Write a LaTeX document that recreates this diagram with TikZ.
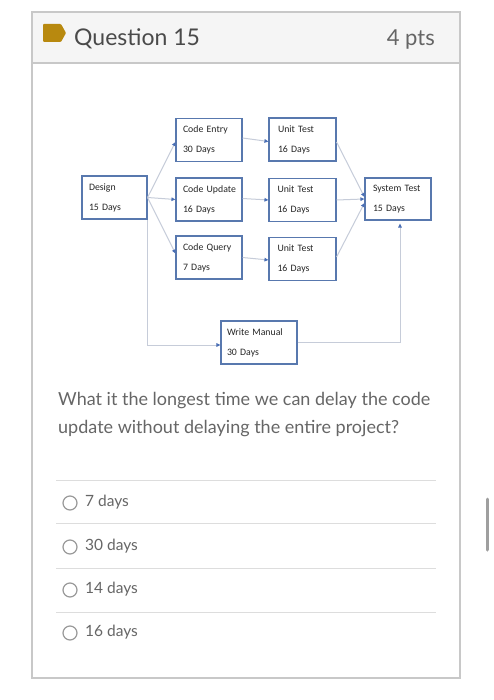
\documentclass[tikz,border=0pt]{standalone}
\usepackage{fontspec}
\setmainfont{Lato}
\newfontfamily\diagfont{Carlito}
\newcommand\diagsetup{\diagfont\fontsize{9.8}{20}\selectfont\hyphenpenalty10000\relax\exhyphenpenalty10000\relax\hfuzz20pt\relax}
\usetikzlibrary{arrows.meta,calc}
\definecolor{cardline}{HTML}{C8C8C8}
\definecolor{headfill}{HTML}{F5F5F5}
\definecolor{flagcol}{HTML}{B8890F}
\definecolor{headtext}{HTML}{4A4A4A}
\definecolor{bodytext}{HTML}{666666}
\definecolor{sepline}{HTML}{DDDDDD}
\definecolor{boxline}{HTML}{5878AE}
\definecolor{conn}{HTML}{C6CCD9}
\definecolor{tipblue}{HTML}{4A6FB5}
\definecolor{diagtext}{HTML}{262626}
\tikzset{
  taskbox/.style={draw=boxline, line width=1.1pt, fill=white, rectangle,
    minimum width=66pt, minimum height=43pt, text width=52pt, align=left,
    inner sep=0pt, text=diagtext, font=\diagsetup},
  link/.style={draw=conn, line width=1pt,
    -{Triangle[length=4pt,width=3.5pt,color=tipblue]}},
  optext/.style={anchor=base west, inner sep=0pt, text=bodytext,
    font=\fontsize{15.5}{18}\selectfont},
  radio/.style={draw=gray!80, line width=1.2pt},
  qtext/.style={anchor=base west, inner sep=0pt, text=bodytext,
    font=\fontsize{18}{20}\selectfont}
}
\begin{document}
\begin{tikzpicture}[x=1pt,y=-1pt]
\useasboundingbox (0,0) rectangle (493,700);
% card
\draw[cardline, line width=1.2pt, fill=white] (32,12) rectangle (460,678);
\draw[cardline, line width=1.2pt, fill=headfill] (32,12) rectangle (460,63);
\fill[flagcol, rounded corners=1pt] (43,24) -- (61,24) -- (66,33) -- (61,42) -- (43,42) -- cycle;
\node[anchor=base west, inner sep=0pt, text=headtext, font=\fontsize{23}{26}\selectfont] (title) at (74,46) {Question 15};
\node[anchor=base east, inner sep=0pt, text=headtext!85, font=\fontsize{22}{26}\selectfont] (pts) at (435,46) {4 pts};
% diagram
\node[taskbox, minimum width=65pt, text width=51pt] (design) at (114.5,197.5) {Design\\15 Days};
\node[taskbox] (ce) at (209,140) {\mbox{Code Entry}\\30 Days};
\node[taskbox] (cu) at (209,199.5) {\mbox{Code Update}\\16 Days};
\node[taskbox] (cq) at (209,257.5) {\mbox{Code Query}\\7 Days};
\node[taskbox, minimum width=67pt, text width=49pt] (ut1) at (302.5,139.5) {\mbox{Unit Test}\\16 Days};
\node[taskbox, minimum width=67pt, text width=50pt] (ut2) at (302.5,200) {\mbox{Unit Test}\\16 Days};
\node[taskbox, minimum width=67pt, text width=50pt] (ut3) at (302.5,259) {\mbox{Unit Test}\\16 Days};
\node[taskbox, minimum height=42pt, text width=50pt] (st) at (398,199) {\mbox{System Test}\\15 Days};
\node[taskbox, minimum width=76pt, text width=64pt] (wm) at (259,342.5) {\mbox{Write Manual}\\30 Days};
\draw[link] (design.east) -- ([yshift=-2pt]ce.west);
\draw[link] (design.east) -- (cu.west);
\draw[link] (design.east) -- ([yshift=4pt]cq.west);
\draw[link] ([yshift=2pt]ce.east) -- ([yshift=-2pt]ut1.west);
\draw[link] ([yshift=1pt]cu.east) -- (ut2.west);
\draw[link] (cq.east) -- ([yshift=-1pt]ut3.west);
\draw[link] ([yshift=-2.5pt]ut1.east) -- ([yshift=2pt]st.west);
\draw[link] (ut2.east) -- (st.west);
\draw[link] ([yshift=2pt]ut3.east) -- ([yshift=-4pt]st.west);
\draw[link] (design.south east) |- ([yshift=-2.5pt]wm.west);
\draw[link, shorten >=3pt] (wm.east) -| ([xshift=2pt]st.south);
% question
\node[qtext] (q1) at (58,405) {What it the longest time we can delay the code};
\node[qtext] (q2) at (58,433) {update without delaying the entire project?};
% options
\foreach \yy in {480,523,568,612} \draw[sepline, line width=1pt] (56,\yy) -- (436,\yy);
\draw[radio] (70,503) circle (7);
\draw[radio] (70,547) circle (7);
\draw[radio] (70,590) circle (7);
\draw[radio] (70,633) circle (7);
\node[optext] (o1) at (85,506) {7 days};
\node[optext] (o2) at (85,550) {30 days};
\node[optext] (o3) at (85,593) {14 days};
\node[optext] (o4) at (85,636) {16 days};
% scrollbar
\draw[gray!75, line width=3pt, line cap=round] (487,499) -- (487,550);
\end{tikzpicture}
\end{document}
